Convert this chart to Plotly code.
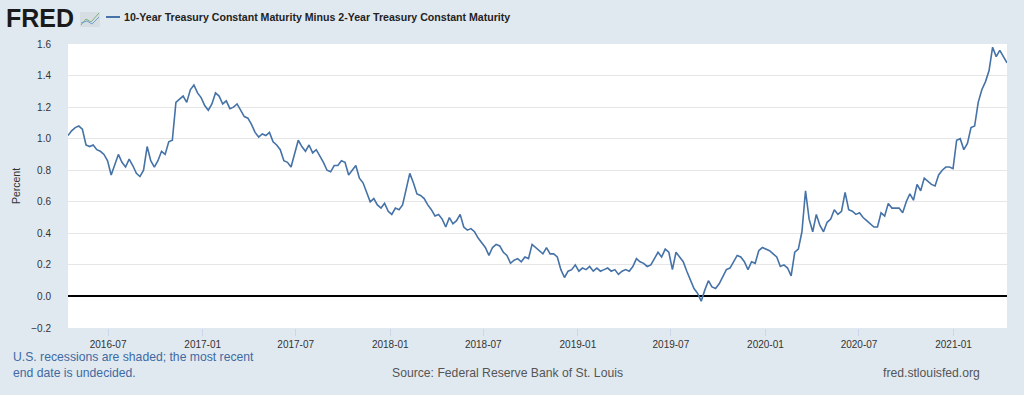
import pandas as pd
import plotly.graph_objects as go

# Weekly readings of the 10Y-2Y Treasury spread (percent), starting 2016-04-14
series_name = "10-Year Treasury Constant Maturity Minus 2-Year Treasury Constant Maturity"
start_date = "2016-04-14"
spread_2016 = [1.02, 1.05, 1.07, 1.08, 1.06, 0.96, 0.95, 0.96, 0.93, 0.92, 0.90, 0.86,
               0.77, 0.84, 0.90, 0.85, 0.82, 0.87, 0.83, 0.78, 0.76, 0.80, 0.95, 0.86,
               0.82, 0.86, 0.92, 0.90, 0.98, 0.99, 1.23, 1.25, 1.27, 1.23, 1.31, 1.34,
               1.29, 1.26]
spread_2017 = [1.21, 1.18, 1.22, 1.29, 1.27, 1.22, 1.24, 1.19, 1.20, 1.22, 1.18, 1.14,
               1.13, 1.09, 1.04, 1.01, 1.03, 1.02, 1.04, 0.98, 0.96, 0.93, 0.86, 0.85,
               0.82, 0.90, 0.99, 0.95, 0.92, 0.96, 0.91, 0.93, 0.89, 0.85, 0.80, 0.79,
               0.83, 0.83, 0.86, 0.85, 0.77, 0.80, 0.83, 0.75, 0.72, 0.66, 0.60, 0.62,
               0.58, 0.56, 0.59, 0.54]
spread_2018 = [0.52, 0.56, 0.55, 0.58, 0.68, 0.78, 0.72, 0.65, 0.64, 0.62, 0.58, 0.55,
               0.51, 0.52, 0.49, 0.44, 0.50, 0.46, 0.48, 0.52, 0.44, 0.42, 0.43, 0.41,
               0.37, 0.34, 0.31, 0.26, 0.31, 0.33, 0.32, 0.28, 0.26, 0.21, 0.23, 0.24,
               0.22, 0.25, 0.24, 0.33, 0.31, 0.29, 0.27, 0.31, 0.27, 0.27, 0.25, 0.17,
               0.12, 0.16, 0.17, 0.20]
spread_2019 = [0.16, 0.18, 0.17, 0.19, 0.16, 0.18, 0.16, 0.17, 0.18, 0.16, 0.17, 0.14,
               0.16, 0.17, 0.16, 0.19, 0.24, 0.22, 0.21, 0.19, 0.20, 0.24, 0.28, 0.25,
               0.30, 0.28, 0.17, 0.28, 0.25, 0.22, 0.16, 0.11, 0.05, 0.02, -0.03, 0.04,
               0.10, 0.06, 0.05, 0.08, 0.13, 0.17, 0.18, 0.22, 0.26, 0.25, 0.22, 0.17,
               0.22, 0.21, 0.29, 0.31]
spread_2020 = [0.30, 0.29, 0.27, 0.25, 0.19, 0.20, 0.18, 0.13, 0.28, 0.30, 0.41, 0.67,
               0.49, 0.41, 0.52, 0.45, 0.41, 0.47, 0.49, 0.55, 0.52, 0.54, 0.66, 0.55,
               0.54, 0.52, 0.53, 0.50, 0.48, 0.46, 0.44, 0.44, 0.53, 0.51, 0.59, 0.56,
               0.56, 0.56, 0.53, 0.60, 0.65, 0.61, 0.71, 0.67, 0.75, 0.73, 0.71, 0.70,
               0.77, 0.80, 0.82, 0.82, 0.81]
spread_2021 = [0.99, 1.00, 0.93, 0.97, 1.07, 1.08, 1.23, 1.31, 1.36, 1.43, 1.58, 1.52,
               1.56, 1.52, 1.48]

values = spread_2016 + spread_2017 + spread_2018 + spread_2019 + spread_2020 + spread_2021
dates = pd.date_range(start_date, periods=len(values), freq="7D")

y_range = [-0.2, 1.6]
x_range = ["2016-04-14", "2021-04-15"]
y_ticks = [-0.2, 0.0, 0.2, 0.4, 0.6, 0.8, 1.0, 1.2, 1.4, 1.6]

W, H = 1024, 395
ML, MR, MT, MB = 68, 17, 44, 67
PW, PH = W - ML - MR, H - MT - MB


def px_x(xp):
    return (xp - ML) / PW


def px_y(yp):
    return (MT + PH - yp) / PH


BG = "#e1e9f0"
LINE = "#4572a7"
FONT = "Liberation Sans, Arial, Helvetica, sans-serif"

fig = go.Figure()
fig.add_trace(go.Scatter(x=dates, y=values, mode="lines", name=series_name,
                         line=dict(color=LINE, width=1.6), showlegend=False,
                         connectgaps=False))

fig.update_layout(
    width=W, height=H,
    margin=dict(l=ML, r=MR, t=MT, b=MB, pad=0),
    paper_bgcolor=BG, plot_bgcolor="white",
    font=dict(family=FONT, size=10, color="#333333"),
    xaxis=dict(range=x_range, type="date", tick0="2016-01-01", dtick="M6",
               tickformat="%Y-%m", showgrid=False, zeroline=False,
               ticks="outside", ticklen=7, tickcolor="#ccd6eb", tickwidth=1,
               showline=False, tickfont=dict(size=10, color="#333333")),
    yaxis=dict(range=y_range, tickvals=y_ticks, tickformat=".1f",
               showgrid=True, gridcolor="#e6e6e6", gridwidth=1,
               zeroline=True, zerolinecolor="#000000", zerolinewidth=2,
               ticks="", showline=False, ticklabelstandoff=16,
               tickfont=dict(size=10, color="#333333"),
               title=dict(text="Percent", font=dict(size=10.5, color="#333333"), standoff=8)),
)

annotations = [
    dict(text="<b>FRED</b>", x=px_x(4), y=px_y(18), xanchor="left", yanchor="middle",
         font=dict(size=25, color="#1a1a1a", family="Liberation Sans, Arial, sans-serif")),
    dict(text="<b>" + series_name + "</b>", x=px_x(122), y=px_y(17), xanchor="left", yanchor="middle",
         font=dict(size=10.6, color="#222222")),
    dict(text="U.S. recessions are shaded; the most recent<br>end date is undecided.",
         x=px_x(11), y=px_y(365), xanchor="left", yanchor="middle", align="left",
         font=dict(size=12.2, color="#3e6aa3")),
    dict(text="Source: Federal Reserve Bank of St. Louis", x=px_x(507), y=px_y(373),
         xanchor="center", yanchor="middle", font=dict(size=12.2, color="#555555")),
    dict(text="fred.stlouisfed.org", x=px_x(982), y=px_y(373),
         xanchor="right", yanchor="middle", font=dict(size=12.2, color="#555555")),
]
for a in annotations:
    a.update(xref="paper", yref="paper", showarrow=False)
fig.update_layout(annotations=annotations)

shapes = [
    # legend swatch
    dict(type="line", x0=px_x(106), x1=px_x(120), y0=px_y(17), y1=px_y(17),
         line=dict(color=LINE, width=2)),
    # small logo icon box
    dict(type="rect", x0=px_x(80), x1=px_x(100), y0=px_y(27), y1=px_y(12),
         line=dict(width=0), fillcolor="#d6dde3"),
    dict(type="path", path="M {} {} L {} {} L {} {} L {} {}".format(
        px_x(81), px_y(25), px_x(86), px_y(19), px_x(91), px_y(22), px_x(99), px_y(13)),
         line=dict(color="#7fb27a", width=1)),
    dict(type="path", path="M {} {} L {} {} L {} {} L {} {}".format(
        px_x(81), px_y(23), px_x(87), px_y(21), px_x(92), px_y(24), px_x(99), px_y(17)),
         line=dict(color="#6f9fd0", width=1)),
]
for s in shapes:
    s.update(xref="paper", yref="paper")
fig.update_layout(shapes=shapes)

fig.write_html("out.html", config={"displayModeBar": False},
               post_script="document.body.style.margin='0';document.body.style.background='%s';" % BG)
